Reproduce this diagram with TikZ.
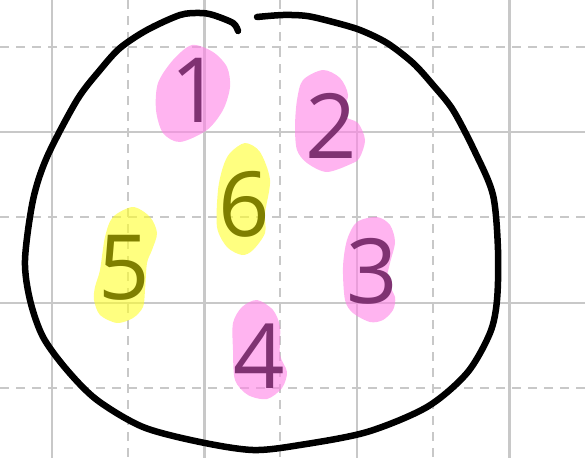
\documentclass[tikz,border=0pt]{standalone}
\usepackage{fontspec}
\setmainfont{Open Sans}
\definecolor{Blush}{HTML}{FF82E6}
\definecolor{Plum}{HTML}{7F3272}
\definecolor{Lemon}{HTML}{FFFF2B}
\definecolor{Olive}{HTML}{7F7F00}
\definecolor{GridGray}{HTML}{C8C8C8}

\tikzset{
  gridline/.style={GridGray,line width=2.8pt},
  blob/.style={fill=#1,fill opacity=0.6},
  digit/.style={text=#1,font=\fontsize{90}{90}\selectfont,inner sep=0pt},
}

\begin{document}
\begin{tikzpicture}[x=1pt,y=-1pt]
    \useasboundingbox (0,0) rectangle (585,458);
    % grid paper
    \begin{scope}
      \clip (0,0) rectangle (585,458);
      \foreach \gx in {52,204.5,357,509.5}
        \draw[gridline] (\gx,0) -- (\gx,458);
      \foreach \gx in {128,280,433}
        \draw[gridline,dash pattern=on 9pt off 7pt] (\gx,0) -- (\gx,458);
      \foreach \gy in {132,303}
        \draw[gridline] (0,\gy) -- (585,\gy);
      \foreach \gy in {47,217,388}
        \draw[gridline,dash pattern=on 9pt off 7pt] (0,\gy) -- (585,\gy);
    \end{scope}
    % highlighter marks
    \fill[blob=Blush] plot[smooth cycle] coordinates {(192,45) (213,52) (227,67) (230,87) (223,110) (207,130) (180,142) (163,133) (156,110) (158,83) (173,60)};
    \fill[blob=Blush] plot[smooth cycle] coordinates {(323,70) (340,78) (348,95) (343,115) (358,123) (365,140) (360,157) (353,163) (327,172) (307,163) (297,150) (295,127) (297,100) (303,80)};
    \fill[blob=Lemon] plot[smooth cycle] coordinates {(245,143) (260,152) (270,180) (265,213) (265,233) (253,250) (242,255) (227,247) (217,227) (218,190) (223,167) (230,153)};
    \fill[blob=Lemon] plot[smooth cycle] coordinates {(133,207) (150,217) (157,233) (152,250) (147,263) (145,290) (143,307) (133,318) (117,323) (100,315) (94,300) (95,287) (100,270) (105,237) (113,217)};
    \fill[blob=Blush] plot[smooth cycle] coordinates {(377,217) (390,225) (395,242) (390,263) (387,280) (395,297) (393,310) (383,320) (370,322) (353,313) (345,300) (343,267) (347,240) (357,222)};
    \fill[blob=Blush] plot[smooth cycle] coordinates {(257,300) (273,310) (280,327) (280,355) (287,372) (282,388) (267,399) (248,395) (235,380) (233,350) (233,323) (242,307)};
    % numbers
    \node[digit=Plum] (d1) at (196,90) {1};
    \node[digit=Plum] (d2) at (331,126) {2};
    \node[digit=Plum] (d3) at (372,271) {3};
    \node[digit=Plum] (d4) at (259,356) {4};
    \node[digit=Olive] (d5) at (124,268) {5};
    \node[digit=Olive] (d6) at (244,204) {6};
    % outline with a gap at the top
    \draw[line width=6.5pt,line cap=round] plot[smooth] coordinates {(238,31) (233,23) (213,15) (200,13) (180,15) (147,30) (120,48) (100,70) (77,100) (47,157) (33,200) (25,260) (30,300) (43,337) (67,370) (97,400) (143,427) (200,442) (253,450) (300,445) (367,432) (427,407) (467,373) (490,333) (497,300) (498,250) (493,195) (475,152) (453,110) (433,85) (413,63) (387,43) (360,30) (333,22) (307,16) (283,15) (257,17)};
\end{tikzpicture}
\end{document}
